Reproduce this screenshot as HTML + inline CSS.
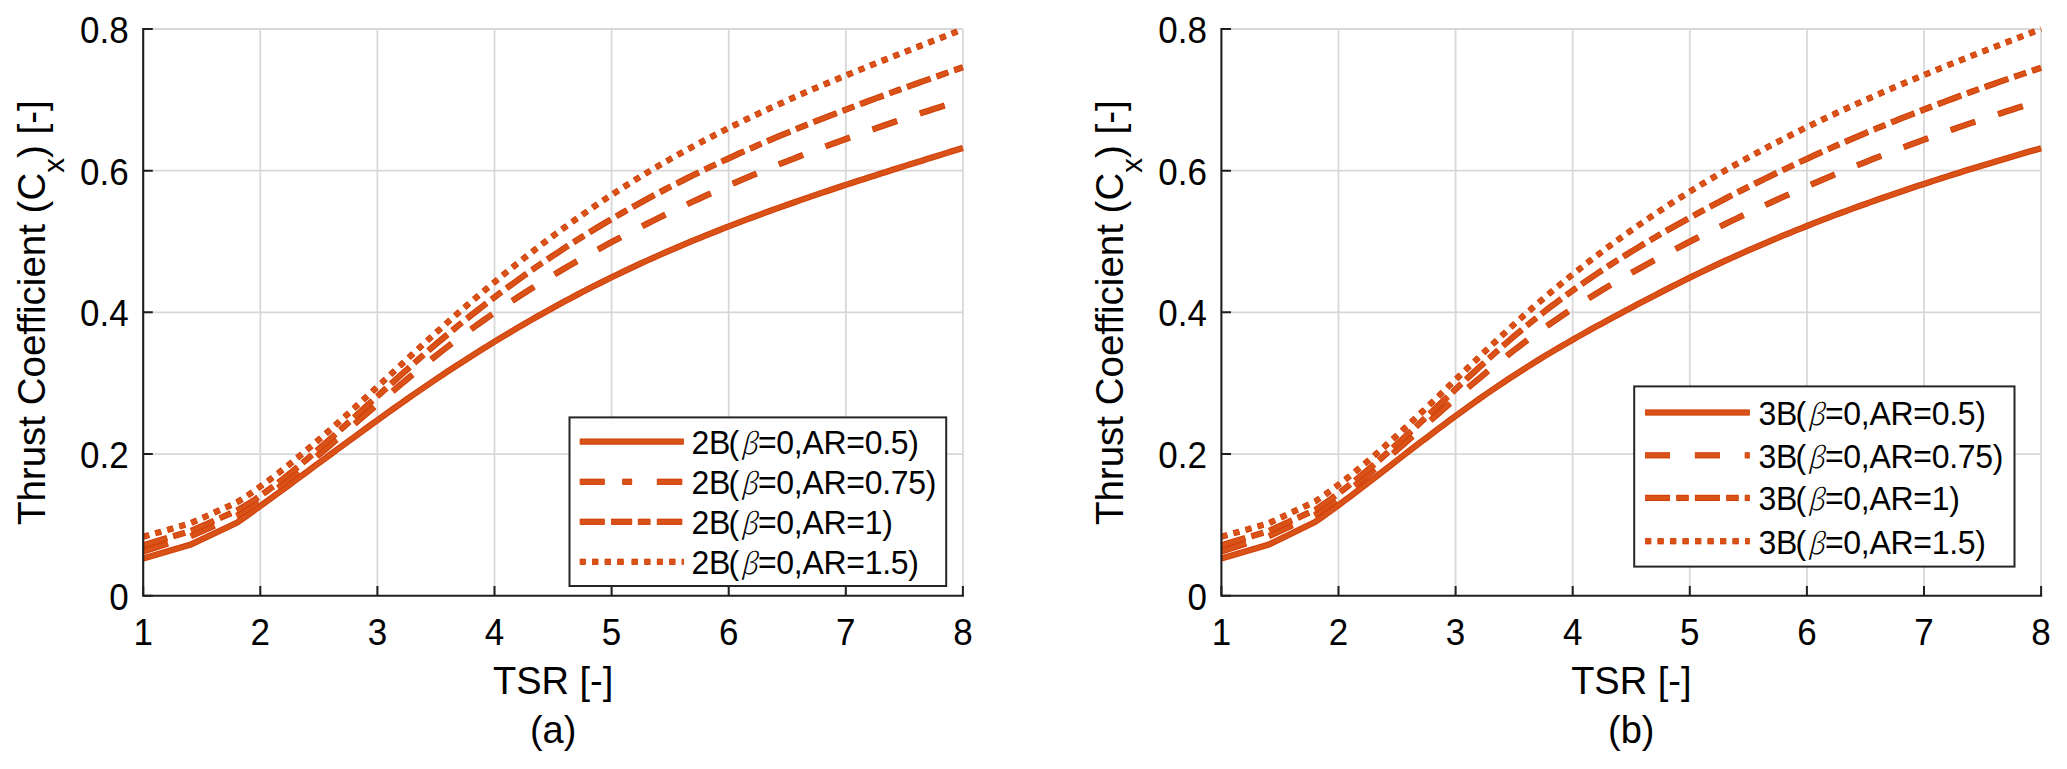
<!DOCTYPE html>
<html><head><meta charset="utf-8"><title>Thrust Coefficient vs TSR</title>
<style>
html,body{margin:0;padding:0;background:#fff;width:2067px;height:769px;overflow:hidden}
svg{display:block}
text{font-family:"Liberation Sans",Arial,sans-serif;fill:#000}
.tk{font-size:35px}
.lb{font-size:38px}
.yl{font-size:38.5px}
.lg{font-size:32px;letter-spacing:-0.3px}
.gr{font-family:"Noto Serif CJK SC","Liberation Serif",serif;font-weight:200;font-style:italic;font-size:28px}
.sub{font-size:29.5px}
</style></head><body>
<svg width="2067" height="769" viewBox="0 0 2067 769">
<rect width="2067" height="769" fill="#fff"/>
<path d="M260.30 595.70V29.00 M377.40 595.70V29.00 M494.50 595.70V29.00 M611.60 595.70V29.00 M728.70 595.70V29.00 M845.80 595.70V29.00 M962.90 595.70V29.00 M143.20 454.03H962.90 M143.20 312.35H962.90 M143.20 170.67H962.90 M143.20 29.00H962.90" stroke="#262626" stroke-opacity="0.18" stroke-width="1.8" fill="none"/>
<polyline points="143.20,558.51 190.04,544.84 236.88,522.74 242.74,518.61 248.59,514.45 254.45,510.25 260.30,506.03 266.16,501.79 272.01,497.53 277.87,493.25 283.72,488.96 289.58,484.65 295.43,480.34 301.29,476.01 307.14,471.69 313.00,467.36 318.85,463.03 324.71,458.70 330.56,454.38 336.42,450.07 342.27,445.76 348.13,441.46 353.98,437.18 359.84,432.90 365.69,428.64 371.55,424.40 377.40,420.18 383.26,415.97 389.11,411.79 394.97,407.63 400.82,403.49 406.68,399.38 412.53,395.29 418.39,391.24 424.24,387.22 430.10,383.23 435.95,379.27 441.81,375.35 447.66,371.47 453.52,367.62 459.37,363.81 465.23,360.04 471.08,356.30 476.94,352.59 482.79,348.93 488.65,345.29 494.50,341.70 500.36,338.14 506.21,334.62 512.07,331.13 517.92,327.68 523.78,324.26 529.63,320.88 535.49,317.54 541.34,314.23 547.20,310.95 553.05,307.72 558.91,304.52 564.76,301.35 570.62,298.22 576.47,295.13 582.33,292.07 588.18,289.05 594.04,286.06 599.89,283.11 605.75,280.19 611.60,277.31 617.46,274.47 623.31,271.66 629.17,268.88 635.02,266.14 640.88,263.44 646.73,260.76 652.59,258.12 658.44,255.50 664.30,252.92 670.15,250.37 676.01,247.85 681.86,245.36 687.72,242.89 693.57,240.46 699.43,238.05 705.28,235.66 711.14,233.31 716.99,230.98 722.85,228.67 728.70,226.39 734.56,224.13 740.41,221.89 746.27,219.68 752.12,217.48 757.98,215.31 763.83,213.16 769.69,211.03 775.54,208.92 781.40,206.83 787.25,204.75 793.11,202.70 798.96,200.66 804.82,198.63 810.67,196.62 816.53,194.63 822.38,192.65 828.24,190.69 834.09,188.74 839.95,186.80 845.80,184.87 851.66,182.96 857.51,181.05 863.37,179.16 869.22,177.27 875.08,175.40 880.93,173.53 886.79,171.67 892.64,169.82 898.50,167.98 904.35,166.14 910.21,164.30 916.06,162.47 921.92,160.65 927.77,158.83 933.63,157.01 939.48,155.20 945.34,153.38 951.19,151.57 957.05,149.76 962.90,147.95" fill="none" stroke="#D2400A" stroke-width="6.25" stroke-linejoin="round" />
<polyline points="143.20,558.51 190.04,544.84 236.88,522.74 242.74,518.61 248.59,514.45 254.45,510.25 260.30,506.03 266.16,501.79 272.01,497.53 277.87,493.25 283.72,488.96 289.58,484.65 295.43,480.34 301.29,476.01 307.14,471.69 313.00,467.36 318.85,463.03 324.71,458.70 330.56,454.38 336.42,450.07 342.27,445.76 348.13,441.46 353.98,437.18 359.84,432.90 365.69,428.64 371.55,424.40 377.40,420.18 383.26,415.97 389.11,411.79 394.97,407.63 400.82,403.49 406.68,399.38 412.53,395.29 418.39,391.24 424.24,387.22 430.10,383.23 435.95,379.27 441.81,375.35 447.66,371.47 453.52,367.62 459.37,363.81 465.23,360.04 471.08,356.30 476.94,352.59 482.79,348.93 488.65,345.29 494.50,341.70 500.36,338.14 506.21,334.62 512.07,331.13 517.92,327.68 523.78,324.26 529.63,320.88 535.49,317.54 541.34,314.23 547.20,310.95 553.05,307.72 558.91,304.52 564.76,301.35 570.62,298.22 576.47,295.13 582.33,292.07 588.18,289.05 594.04,286.06 599.89,283.11 605.75,280.19 611.60,277.31 617.46,274.47 623.31,271.66 629.17,268.88 635.02,266.14 640.88,263.44 646.73,260.76 652.59,258.12 658.44,255.50 664.30,252.92 670.15,250.37 676.01,247.85 681.86,245.36 687.72,242.89 693.57,240.46 699.43,238.05 705.28,235.66 711.14,233.31 716.99,230.98 722.85,228.67 728.70,226.39 734.56,224.13 740.41,221.89 746.27,219.68 752.12,217.48 757.98,215.31 763.83,213.16 769.69,211.03 775.54,208.92 781.40,206.83 787.25,204.75 793.11,202.70 798.96,200.66 804.82,198.63 810.67,196.62 816.53,194.63 822.38,192.65 828.24,190.69 834.09,188.74 839.95,186.80 845.80,184.87 851.66,182.96 857.51,181.05 863.37,179.16 869.22,177.27 875.08,175.40 880.93,173.53 886.79,171.67 892.64,169.82 898.50,167.98 904.35,166.14 910.21,164.30 916.06,162.47 921.92,160.65 927.77,158.83 933.63,157.01 939.48,155.20 945.34,153.38 951.19,151.57 957.05,149.76 962.90,147.95" fill="none" stroke="#D95319" stroke-width="4.05" stroke-linejoin="round" />
<polyline points="143.20,551.43 190.04,536.41 236.88,515.65 242.74,512.22 248.59,508.58 254.45,504.77 260.30,500.80 266.16,496.68 272.01,492.41 277.87,488.02 283.72,483.52 289.58,478.91 295.43,474.21 301.29,469.43 307.14,464.59 313.00,459.68 318.85,454.74 324.71,449.76 330.56,444.76 336.42,439.73 342.27,434.69 348.13,429.64 353.98,424.58 359.84,419.51 365.69,414.45 371.55,409.40 377.40,404.36 383.26,399.34 389.11,394.34 394.97,389.37 400.82,384.42 406.68,379.52 412.53,374.66 418.39,369.84 424.24,365.08 430.10,360.37 435.95,355.73 441.81,351.15 447.66,346.63 453.52,342.18 459.37,337.79 465.23,333.47 471.08,329.20 476.94,325.00 482.79,320.85 488.65,316.76 494.50,312.72 500.36,308.74 506.21,304.82 512.07,300.95 517.92,297.13 523.78,293.36 529.63,289.63 535.49,285.96 541.34,282.34 547.20,278.76 553.05,275.22 558.91,271.73 564.76,268.28 570.62,264.87 576.47,261.51 582.33,258.18 588.18,254.89 594.04,251.64 599.89,248.42 605.75,245.24 611.60,242.09 617.46,238.97 623.31,235.89 629.17,232.84 635.02,229.82 640.88,226.82 646.73,223.87 652.59,220.94 658.44,218.04 664.30,215.17 670.15,212.33 676.01,209.51 681.86,206.73 687.72,203.98 693.57,201.25 699.43,198.55 705.28,195.88 711.14,193.23 716.99,190.61 722.85,188.02 728.70,185.45 734.56,182.91 740.41,180.39 746.27,177.90 752.12,175.43 757.98,172.98 763.83,170.56 769.69,168.17 775.54,165.79 781.40,163.44 787.25,161.11 793.11,158.80 798.96,156.52 804.82,154.25 810.67,152.01 816.53,149.78 822.38,147.58 828.24,145.39 834.09,143.23 839.95,141.08 845.80,138.96 851.66,136.85 857.51,134.76 863.37,132.68 869.22,130.63 875.08,128.59 880.93,126.57 886.79,124.56 892.64,122.57 898.50,120.59 904.35,118.64 910.21,116.69 916.06,114.76 921.92,112.84 927.77,110.94 933.63,109.05 939.48,107.18 945.34,105.32 951.19,103.46 957.05,101.63 962.90,99.80" fill="none" stroke="#D2400A" stroke-width="6.25" stroke-linejoin="round" stroke-dasharray="26 24"/>
<polyline points="143.20,551.43 190.04,536.41 236.88,515.65 242.74,512.22 248.59,508.58 254.45,504.77 260.30,500.80 266.16,496.68 272.01,492.41 277.87,488.02 283.72,483.52 289.58,478.91 295.43,474.21 301.29,469.43 307.14,464.59 313.00,459.68 318.85,454.74 324.71,449.76 330.56,444.76 336.42,439.73 342.27,434.69 348.13,429.64 353.98,424.58 359.84,419.51 365.69,414.45 371.55,409.40 377.40,404.36 383.26,399.34 389.11,394.34 394.97,389.37 400.82,384.42 406.68,379.52 412.53,374.66 418.39,369.84 424.24,365.08 430.10,360.37 435.95,355.73 441.81,351.15 447.66,346.63 453.52,342.18 459.37,337.79 465.23,333.47 471.08,329.20 476.94,325.00 482.79,320.85 488.65,316.76 494.50,312.72 500.36,308.74 506.21,304.82 512.07,300.95 517.92,297.13 523.78,293.36 529.63,289.63 535.49,285.96 541.34,282.34 547.20,278.76 553.05,275.22 558.91,271.73 564.76,268.28 570.62,264.87 576.47,261.51 582.33,258.18 588.18,254.89 594.04,251.64 599.89,248.42 605.75,245.24 611.60,242.09 617.46,238.97 623.31,235.89 629.17,232.84 635.02,229.82 640.88,226.82 646.73,223.87 652.59,220.94 658.44,218.04 664.30,215.17 670.15,212.33 676.01,209.51 681.86,206.73 687.72,203.98 693.57,201.25 699.43,198.55 705.28,195.88 711.14,193.23 716.99,190.61 722.85,188.02 728.70,185.45 734.56,182.91 740.41,180.39 746.27,177.90 752.12,175.43 757.98,172.98 763.83,170.56 769.69,168.17 775.54,165.79 781.40,163.44 787.25,161.11 793.11,158.80 798.96,156.52 804.82,154.25 810.67,152.01 816.53,149.78 822.38,147.58 828.24,145.39 834.09,143.23 839.95,141.08 845.80,138.96 851.66,136.85 857.51,134.76 863.37,132.68 869.22,130.63 875.08,128.59 880.93,126.57 886.79,124.56 892.64,122.57 898.50,120.59 904.35,118.64 910.21,116.69 916.06,114.76 921.92,112.84 927.77,110.94 933.63,109.05 939.48,107.18 945.34,105.32 951.19,103.46 957.05,101.63 962.90,99.80" fill="none" stroke="#D95319" stroke-width="4.05" stroke-linejoin="round" stroke-dasharray="26 24"/>
<polyline points="143.20,545.19 190.04,531.24 236.88,510.70 242.74,507.27 248.59,503.63 254.45,499.81 260.30,495.81 266.16,491.66 272.01,487.35 277.87,482.91 283.72,478.34 289.58,473.65 295.43,468.86 301.29,463.98 307.14,459.01 313.00,453.98 318.85,448.89 324.71,443.74 330.56,438.56 336.42,433.34 342.27,428.09 348.13,422.81 353.98,417.51 359.84,412.20 365.69,406.88 371.55,401.55 377.40,396.22 383.26,390.90 389.11,385.60 394.97,380.31 400.82,375.04 406.68,369.80 412.53,364.59 418.39,359.42 424.24,354.29 430.10,349.22 435.95,344.20 441.81,339.24 447.66,334.33 453.52,329.49 459.37,324.70 465.23,319.98 471.08,315.31 476.94,310.69 482.79,306.13 488.65,301.63 494.50,297.19 500.36,292.80 506.21,288.46 512.07,284.17 517.92,279.94 523.78,275.77 529.63,271.64 535.49,267.56 541.34,263.54 547.20,259.57 553.05,255.64 558.91,251.77 564.76,247.95 570.62,244.17 576.47,240.44 582.33,236.76 588.18,233.12 594.04,229.53 599.89,225.99 605.75,222.49 611.60,219.04 617.46,215.63 623.31,212.27 629.17,208.94 635.02,205.66 640.88,202.42 646.73,199.22 652.59,196.06 658.44,192.94 664.30,189.86 670.15,186.81 676.01,183.81 681.86,180.84 687.72,177.90 693.57,175.00 699.43,172.13 705.28,169.30 711.14,166.50 716.99,163.74 722.85,161.00 728.70,158.29 734.56,155.62 740.41,152.97 746.27,150.36 752.12,147.77 757.98,145.20 763.83,142.67 769.69,140.16 775.54,137.67 781.40,135.21 787.25,132.78 793.11,130.36 798.96,127.97 804.82,125.60 810.67,123.26 816.53,120.93 822.38,118.62 828.24,116.33 834.09,114.06 839.95,111.80 845.80,109.57 851.66,107.34 857.51,105.14 863.37,102.95 869.22,100.77 875.08,98.60 880.93,96.45 886.79,94.31 892.64,92.18 898.50,90.06 904.35,87.95 910.21,85.85 916.06,83.76 921.92,81.68 927.77,79.60 933.63,77.53 939.48,75.47 945.34,73.40 951.19,71.35 957.05,69.29 962.90,67.24" fill="none" stroke="#D2400A" stroke-width="6.25" stroke-linejoin="round" stroke-dasharray="25 6.25 12.5 6.25"/>
<polyline points="143.20,545.19 190.04,531.24 236.88,510.70 242.74,507.27 248.59,503.63 254.45,499.81 260.30,495.81 266.16,491.66 272.01,487.35 277.87,482.91 283.72,478.34 289.58,473.65 295.43,468.86 301.29,463.98 307.14,459.01 313.00,453.98 318.85,448.89 324.71,443.74 330.56,438.56 336.42,433.34 342.27,428.09 348.13,422.81 353.98,417.51 359.84,412.20 365.69,406.88 371.55,401.55 377.40,396.22 383.26,390.90 389.11,385.60 394.97,380.31 400.82,375.04 406.68,369.80 412.53,364.59 418.39,359.42 424.24,354.29 430.10,349.22 435.95,344.20 441.81,339.24 447.66,334.33 453.52,329.49 459.37,324.70 465.23,319.98 471.08,315.31 476.94,310.69 482.79,306.13 488.65,301.63 494.50,297.19 500.36,292.80 506.21,288.46 512.07,284.17 517.92,279.94 523.78,275.77 529.63,271.64 535.49,267.56 541.34,263.54 547.20,259.57 553.05,255.64 558.91,251.77 564.76,247.95 570.62,244.17 576.47,240.44 582.33,236.76 588.18,233.12 594.04,229.53 599.89,225.99 605.75,222.49 611.60,219.04 617.46,215.63 623.31,212.27 629.17,208.94 635.02,205.66 640.88,202.42 646.73,199.22 652.59,196.06 658.44,192.94 664.30,189.86 670.15,186.81 676.01,183.81 681.86,180.84 687.72,177.90 693.57,175.00 699.43,172.13 705.28,169.30 711.14,166.50 716.99,163.74 722.85,161.00 728.70,158.29 734.56,155.62 740.41,152.97 746.27,150.36 752.12,147.77 757.98,145.20 763.83,142.67 769.69,140.16 775.54,137.67 781.40,135.21 787.25,132.78 793.11,130.36 798.96,127.97 804.82,125.60 810.67,123.26 816.53,120.93 822.38,118.62 828.24,116.33 834.09,114.06 839.95,111.80 845.80,109.57 851.66,107.34 857.51,105.14 863.37,102.95 869.22,100.77 875.08,98.60 880.93,96.45 886.79,94.31 892.64,92.18 898.50,90.06 904.35,87.95 910.21,85.85 916.06,83.76 921.92,81.68 927.77,79.60 933.63,77.53 939.48,75.47 945.34,73.40 951.19,71.35 957.05,69.29 962.90,67.24" fill="none" stroke="#D95319" stroke-width="4.05" stroke-linejoin="round" stroke-dasharray="25 6.25 12.5 6.25"/>
<polyline points="143.20,536.76 190.04,523.45 236.88,502.48 242.74,498.70 248.59,494.77 254.45,490.73 260.30,486.57 266.16,482.29 272.01,477.92 277.87,473.44 283.72,468.86 289.58,464.19 295.43,459.44 301.29,454.61 307.14,449.70 313.00,444.72 318.85,439.67 324.71,434.56 330.56,429.40 336.42,424.19 342.27,418.93 348.13,413.63 353.98,408.30 359.84,402.93 365.69,397.54 371.55,392.13 377.40,386.71 383.26,381.27 389.11,375.83 394.97,370.39 400.82,364.96 406.68,359.53 412.53,354.12 418.39,348.73 424.24,343.37 430.10,338.04 435.95,332.74 441.81,327.48 447.66,322.26 453.52,317.08 459.37,311.95 465.23,306.86 471.08,301.81 476.94,296.80 482.79,291.84 488.65,286.92 494.50,282.05 500.36,277.23 506.21,272.45 512.07,267.71 517.92,263.03 523.78,258.39 529.63,253.80 535.49,249.25 541.34,244.76 547.20,240.32 553.05,235.93 558.91,231.58 564.76,227.29 570.62,223.05 576.47,218.87 582.33,214.73 588.18,210.65 594.04,206.62 599.89,202.65 605.75,198.73 611.60,194.87 617.46,191.06 623.31,187.31 629.17,183.61 635.02,179.97 640.88,176.37 646.73,172.83 652.59,169.34 658.44,165.89 664.30,162.49 670.15,159.14 676.01,155.84 681.86,152.58 687.72,149.37 693.57,146.20 699.43,143.06 705.28,139.98 711.14,136.93 716.99,133.91 722.85,130.94 728.70,128.01 734.56,125.10 740.41,122.24 746.27,119.41 752.12,116.61 757.98,113.84 763.83,111.11 769.69,108.40 775.54,105.72 781.40,103.07 787.25,100.45 793.11,97.85 798.96,95.28 804.82,92.73 810.67,90.21 816.53,87.70 822.38,85.22 828.24,82.75 834.09,80.31 839.95,77.88 845.80,75.47 851.66,73.08 857.51,70.70 863.37,68.34 869.22,65.98 875.08,63.64 880.93,61.31 886.79,58.99 892.64,56.68 898.50,54.38 904.35,52.08 910.21,49.79 916.06,47.50 921.92,45.22 927.77,42.94 933.63,40.66 939.48,38.39 945.34,36.11 951.19,33.83 957.05,31.55 962.90,29.27" fill="none" stroke="#D2400A" stroke-width="6.25" stroke-linejoin="round" stroke-dasharray="6.25 6.25"/>
<polyline points="143.20,536.76 190.04,523.45 236.88,502.48 242.74,498.70 248.59,494.77 254.45,490.73 260.30,486.57 266.16,482.29 272.01,477.92 277.87,473.44 283.72,468.86 289.58,464.19 295.43,459.44 301.29,454.61 307.14,449.70 313.00,444.72 318.85,439.67 324.71,434.56 330.56,429.40 336.42,424.19 342.27,418.93 348.13,413.63 353.98,408.30 359.84,402.93 365.69,397.54 371.55,392.13 377.40,386.71 383.26,381.27 389.11,375.83 394.97,370.39 400.82,364.96 406.68,359.53 412.53,354.12 418.39,348.73 424.24,343.37 430.10,338.04 435.95,332.74 441.81,327.48 447.66,322.26 453.52,317.08 459.37,311.95 465.23,306.86 471.08,301.81 476.94,296.80 482.79,291.84 488.65,286.92 494.50,282.05 500.36,277.23 506.21,272.45 512.07,267.71 517.92,263.03 523.78,258.39 529.63,253.80 535.49,249.25 541.34,244.76 547.20,240.32 553.05,235.93 558.91,231.58 564.76,227.29 570.62,223.05 576.47,218.87 582.33,214.73 588.18,210.65 594.04,206.62 599.89,202.65 605.75,198.73 611.60,194.87 617.46,191.06 623.31,187.31 629.17,183.61 635.02,179.97 640.88,176.37 646.73,172.83 652.59,169.34 658.44,165.89 664.30,162.49 670.15,159.14 676.01,155.84 681.86,152.58 687.72,149.37 693.57,146.20 699.43,143.06 705.28,139.98 711.14,136.93 716.99,133.91 722.85,130.94 728.70,128.01 734.56,125.10 740.41,122.24 746.27,119.41 752.12,116.61 757.98,113.84 763.83,111.11 769.69,108.40 775.54,105.72 781.40,103.07 787.25,100.45 793.11,97.85 798.96,95.28 804.82,92.73 810.67,90.21 816.53,87.70 822.38,85.22 828.24,82.75 834.09,80.31 839.95,77.88 845.80,75.47 851.66,73.08 857.51,70.70 863.37,68.34 869.22,65.98 875.08,63.64 880.93,61.31 886.79,58.99 892.64,56.68 898.50,54.38 904.35,52.08 910.21,49.79 916.06,47.50 921.92,45.22 927.77,42.94 933.63,40.66 939.48,38.39 945.34,36.11 951.19,33.83 957.05,31.55 962.90,29.27" fill="none" stroke="#D95319" stroke-width="4.05" stroke-linejoin="round" stroke-dasharray="6.25 6.25"/>
<path d="M143.20 29.00V595.70H962.90" stroke="#1f1f1f" stroke-width="2.1" fill="none" stroke-linecap="square"/>
<path d="M143.20 595.70V586.10 M260.30 595.70V586.10 M377.40 595.70V586.10 M494.50 595.70V586.10 M611.60 595.70V586.10 M728.70 595.70V586.10 M845.80 595.70V586.10 M962.90 595.70V586.10 M143.20 595.70H152.80 M143.20 454.03H152.80 M143.20 312.35H152.80 M143.20 170.67H152.80 M143.20 29.00H152.80" stroke="#1f1f1f" stroke-width="2" fill="none"/>
<text transform="translate(143.20 644.80) scale(1 1.055)" class="tk" text-anchor="middle">1</text>
<text transform="translate(260.30 644.80) scale(1 1.055)" class="tk" text-anchor="middle">2</text>
<text transform="translate(377.40 644.80) scale(1 1.055)" class="tk" text-anchor="middle">3</text>
<text transform="translate(494.50 644.80) scale(1 1.055)" class="tk" text-anchor="middle">4</text>
<text transform="translate(611.60 644.80) scale(1 1.055)" class="tk" text-anchor="middle">5</text>
<text transform="translate(728.70 644.80) scale(1 1.055)" class="tk" text-anchor="middle">6</text>
<text transform="translate(845.80 644.80) scale(1 1.055)" class="tk" text-anchor="middle">7</text>
<text transform="translate(962.90 644.80) scale(1 1.055)" class="tk" text-anchor="middle">8</text>
<text transform="translate(128.70 609.80) scale(1 1.055)" class="tk" text-anchor="end">0</text>
<text transform="translate(128.70 468.13) scale(1 1.055)" class="tk" text-anchor="end">0.2</text>
<text transform="translate(128.70 326.45) scale(1 1.055)" class="tk" text-anchor="end">0.4</text>
<text transform="translate(128.70 184.77) scale(1 1.055)" class="tk" text-anchor="end">0.6</text>
<text transform="translate(128.70 43.10) scale(1 1.055)" class="tk" text-anchor="end">0.8</text>
<rect x="569.5" y="417.4" width="376.70000000000005" height="168.60000000000002" fill="#fff" stroke="#262626" stroke-width="2"/>
<rect x="579.8" y="438.48" width="104.00" height="6.25" fill="#D2400A"/>
<rect x="579.8" y="439.58" width="104.00" height="4.05" fill="#D95319"/>
<rect x="579.8" y="478.68" width="24.90" height="6.25" fill="#D2400A"/>
<rect x="579.8" y="479.78" width="24.90" height="4.05" fill="#D95319"/>
<rect x="622.3" y="478.68" width="9.80" height="6.25" fill="#D2400A"/>
<rect x="622.3" y="479.78" width="9.80" height="4.05" fill="#D95319"/>
<rect x="656.9" y="478.68" width="25.30" height="6.25" fill="#D2400A"/>
<rect x="656.9" y="479.78" width="25.30" height="4.05" fill="#D95319"/>
<rect x="579.8" y="518.67" width="24.90" height="6.25" fill="#D2400A"/>
<rect x="579.8" y="519.77" width="24.90" height="4.05" fill="#D95319"/>
<rect x="611" y="518.67" width="21.10" height="6.25" fill="#D2400A"/>
<rect x="611" y="519.77" width="21.10" height="4.05" fill="#D95319"/>
<rect x="637.9" y="518.67" width="12.50" height="6.25" fill="#D2400A"/>
<rect x="637.9" y="519.77" width="12.50" height="4.05" fill="#D95319"/>
<rect x="656.9" y="518.67" width="25.30" height="6.25" fill="#D2400A"/>
<rect x="656.9" y="519.77" width="25.30" height="4.05" fill="#D95319"/>
<rect x="579.8" y="558.67" width="6.00" height="6.25" fill="#D2400A"/>
<rect x="579.8" y="559.77" width="6.00" height="4.05" fill="#D95319"/>
<rect x="592.0" y="558.67" width="6.30" height="6.25" fill="#D2400A"/>
<rect x="592.0" y="559.77" width="6.30" height="4.05" fill="#D95319"/>
<rect x="604.7" y="558.67" width="6.30" height="6.25" fill="#D2400A"/>
<rect x="604.7" y="559.77" width="6.30" height="4.05" fill="#D95319"/>
<rect x="617.2" y="558.67" width="6.50" height="6.25" fill="#D2400A"/>
<rect x="617.2" y="559.77" width="6.50" height="4.05" fill="#D95319"/>
<rect x="631.6" y="558.67" width="6.30" height="6.25" fill="#D2400A"/>
<rect x="631.6" y="559.77" width="6.30" height="4.05" fill="#D95319"/>
<rect x="644.2" y="558.67" width="6.20" height="6.25" fill="#D2400A"/>
<rect x="644.2" y="559.77" width="6.20" height="4.05" fill="#D95319"/>
<rect x="656.9" y="558.67" width="6.00" height="6.25" fill="#D2400A"/>
<rect x="656.9" y="559.77" width="6.00" height="4.05" fill="#D95319"/>
<rect x="669.2" y="558.67" width="6.20" height="6.25" fill="#D2400A"/>
<rect x="669.2" y="559.77" width="6.20" height="4.05" fill="#D95319"/>
<rect x="681.7" y="558.67" width="2.10" height="6.25" fill="#D2400A"/>
<rect x="681.7" y="559.77" width="2.10" height="4.05" fill="#D95319"/>
<text transform="translate(691.5 454.10) scale(1 1.035)" class="lg">2B<tspan dx="-1.4">(</tspan><tspan class="gr" dx="1.3">β</tspan><tspan dx="1.2">=0,AR=0.5)</tspan></text>
<text transform="translate(691.5 494.30) scale(1 1.035)" class="lg">2B<tspan dx="-1.4">(</tspan><tspan class="gr" dx="1.3">β</tspan><tspan dx="1.2">=0,AR=0.75)</tspan></text>
<text transform="translate(691.5 534.30) scale(1 1.035)" class="lg">2B<tspan dx="-1.4">(</tspan><tspan class="gr" dx="1.3">β</tspan><tspan dx="1.2">=0,AR=1)</tspan></text>
<text transform="translate(691.5 574.30) scale(1 1.035)" class="lg">2B<tspan dx="-1.4">(</tspan><tspan class="gr" dx="1.3">β</tspan><tspan dx="1.2">=0,AR=1.5)</tspan></text>
<text transform="translate(553.10 694.4) scale(1 1.02)" class="lb" text-anchor="middle">TSR [-]</text>
<text transform="translate(553.10 742.6) scale(1 1.02)" class="lb" text-anchor="middle">(a)</text>
<text transform="translate(44.80,312.70) rotate(-90)" class="yl" text-anchor="middle">Thrust Coefficient (C<tspan class="sub" dy="19">x</tspan><tspan dy="-19">) [-]</tspan></text>
<path d="M1338.50 595.70V29.00 M1455.60 595.70V29.00 M1572.70 595.70V29.00 M1689.80 595.70V29.00 M1806.90 595.70V29.00 M1924.00 595.70V29.00 M2041.10 595.70V29.00 M1221.40 454.03H2041.10 M1221.40 312.35H2041.10 M1221.40 170.67H2041.10 M1221.40 29.00H2041.10" stroke="#262626" stroke-opacity="0.18" stroke-width="1.8" fill="none"/>
<polyline points="1221.40,558.51 1268.24,544.84 1315.08,522.03 1320.94,517.92 1326.79,513.74 1332.64,509.50 1338.50,505.20 1344.36,500.84 1350.21,496.45 1356.07,492.01 1361.92,487.54 1367.78,483.04 1373.63,478.53 1379.49,474.00 1385.34,469.46 1391.20,464.92 1397.05,460.38 1402.91,455.85 1408.76,451.33 1414.62,446.83 1420.47,442.35 1426.33,437.89 1432.18,433.45 1438.04,429.04 1443.89,424.66 1449.75,420.32 1455.60,416.00 1461.46,411.73 1467.31,407.50 1473.17,403.30 1479.02,399.16 1484.88,395.06 1490.73,391.00 1496.59,387.00 1502.44,383.05 1508.30,379.15 1514.15,375.31 1520.01,371.53 1525.86,367.80 1531.72,364.13 1537.57,360.51 1543.43,356.93 1549.28,353.41 1555.14,349.92 1560.99,346.48 1566.85,343.08 1572.70,339.72 1578.56,336.39 1584.41,333.10 1590.27,329.84 1596.12,326.61 1601.98,323.40 1607.83,320.22 1613.69,317.06 1619.54,313.92 1625.40,310.79 1631.25,307.69 1637.11,304.59 1642.96,301.51 1648.82,298.45 1654.67,295.41 1660.53,292.39 1666.38,289.39 1672.24,286.41 1678.09,283.46 1683.95,280.54 1689.80,277.65 1695.66,274.79 1701.51,271.96 1707.37,269.16 1713.22,266.40 1719.08,263.66 1724.93,260.96 1730.79,258.28 1736.64,255.63 1742.50,253.01 1748.35,250.42 1754.21,247.86 1760.06,245.33 1765.92,242.82 1771.77,240.34 1777.63,237.88 1783.48,235.45 1789.34,233.05 1795.19,230.67 1801.05,228.32 1806.90,225.99 1812.76,223.69 1818.61,221.40 1824.47,219.15 1830.32,216.91 1836.18,214.70 1842.03,212.51 1847.89,210.34 1853.74,208.19 1859.60,206.06 1865.45,203.95 1871.31,201.86 1877.16,199.80 1883.02,197.75 1888.87,195.72 1894.73,193.70 1900.58,191.71 1906.44,189.73 1912.29,187.77 1918.15,185.83 1924.00,183.91 1929.86,182.00 1935.71,180.10 1941.57,178.22 1947.42,176.36 1953.28,174.51 1959.13,172.67 1964.99,170.85 1970.84,169.04 1976.70,167.24 1982.55,165.46 1988.41,163.68 1994.26,161.92 2000.12,160.17 2005.97,158.43 2011.83,156.70 2017.68,154.99 2023.54,153.28 2029.39,151.58 2035.25,149.89 2041.10,148.20" fill="none" stroke="#D2400A" stroke-width="6.25" stroke-linejoin="round" />
<polyline points="1221.40,558.51 1268.24,544.84 1315.08,522.03 1320.94,517.92 1326.79,513.74 1332.64,509.50 1338.50,505.20 1344.36,500.84 1350.21,496.45 1356.07,492.01 1361.92,487.54 1367.78,483.04 1373.63,478.53 1379.49,474.00 1385.34,469.46 1391.20,464.92 1397.05,460.38 1402.91,455.85 1408.76,451.33 1414.62,446.83 1420.47,442.35 1426.33,437.89 1432.18,433.45 1438.04,429.04 1443.89,424.66 1449.75,420.32 1455.60,416.00 1461.46,411.73 1467.31,407.50 1473.17,403.30 1479.02,399.16 1484.88,395.06 1490.73,391.00 1496.59,387.00 1502.44,383.05 1508.30,379.15 1514.15,375.31 1520.01,371.53 1525.86,367.80 1531.72,364.13 1537.57,360.51 1543.43,356.93 1549.28,353.41 1555.14,349.92 1560.99,346.48 1566.85,343.08 1572.70,339.72 1578.56,336.39 1584.41,333.10 1590.27,329.84 1596.12,326.61 1601.98,323.40 1607.83,320.22 1613.69,317.06 1619.54,313.92 1625.40,310.79 1631.25,307.69 1637.11,304.59 1642.96,301.51 1648.82,298.45 1654.67,295.41 1660.53,292.39 1666.38,289.39 1672.24,286.41 1678.09,283.46 1683.95,280.54 1689.80,277.65 1695.66,274.79 1701.51,271.96 1707.37,269.16 1713.22,266.40 1719.08,263.66 1724.93,260.96 1730.79,258.28 1736.64,255.63 1742.50,253.01 1748.35,250.42 1754.21,247.86 1760.06,245.33 1765.92,242.82 1771.77,240.34 1777.63,237.88 1783.48,235.45 1789.34,233.05 1795.19,230.67 1801.05,228.32 1806.90,225.99 1812.76,223.69 1818.61,221.40 1824.47,219.15 1830.32,216.91 1836.18,214.70 1842.03,212.51 1847.89,210.34 1853.74,208.19 1859.60,206.06 1865.45,203.95 1871.31,201.86 1877.16,199.80 1883.02,197.75 1888.87,195.72 1894.73,193.70 1900.58,191.71 1906.44,189.73 1912.29,187.77 1918.15,185.83 1924.00,183.91 1929.86,182.00 1935.71,180.10 1941.57,178.22 1947.42,176.36 1953.28,174.51 1959.13,172.67 1964.99,170.85 1970.84,169.04 1976.70,167.24 1982.55,165.46 1988.41,163.68 1994.26,161.92 2000.12,160.17 2005.97,158.43 2011.83,156.70 2017.68,154.99 2023.54,153.28 2029.39,151.58 2035.25,149.89 2041.10,148.20" fill="none" stroke="#D95319" stroke-width="4.05" stroke-linejoin="round" />
<polyline points="1221.40,551.43 1268.24,536.41 1315.08,514.95 1320.94,511.08 1326.79,507.04 1332.64,502.85 1338.50,498.52 1344.36,494.05 1350.21,489.47 1356.07,484.79 1361.92,480.00 1367.78,475.14 1373.63,470.20 1379.49,465.19 1385.34,460.14 1391.20,455.04 1397.05,449.92 1402.91,444.78 1408.76,439.63 1414.62,434.46 1420.47,429.30 1426.33,424.13 1432.18,418.98 1438.04,413.83 1443.89,408.70 1449.75,403.59 1455.60,398.51 1461.46,393.45 1467.31,388.44 1473.17,383.46 1479.02,378.53 1484.88,373.65 1490.73,368.82 1496.59,364.05 1502.44,359.35 1508.30,354.71 1514.15,350.15 1520.01,345.67 1525.86,341.26 1531.72,336.93 1537.57,332.67 1543.43,328.49 1549.28,324.37 1555.14,320.32 1560.99,316.34 1566.85,312.42 1572.70,308.56 1578.56,304.76 1584.41,301.03 1590.27,297.34 1596.12,293.72 1601.98,290.14 1607.83,286.62 1613.69,283.15 1619.54,279.72 1625.40,276.34 1631.25,273.00 1637.11,269.71 1642.96,266.45 1648.82,263.24 1654.67,260.06 1660.53,256.91 1666.38,253.80 1672.24,250.72 1678.09,247.66 1683.95,244.64 1689.80,241.64 1695.66,238.66 1701.51,235.70 1707.37,232.77 1713.22,229.87 1719.08,226.98 1724.93,224.12 1730.79,221.28 1736.64,218.46 1742.50,215.67 1748.35,212.90 1754.21,210.15 1760.06,207.42 1765.92,204.72 1771.77,202.04 1777.63,199.38 1783.48,196.74 1789.34,194.12 1795.19,191.53 1801.05,188.95 1806.90,186.40 1812.76,183.87 1818.61,181.36 1824.47,178.87 1830.32,176.40 1836.18,173.95 1842.03,171.53 1847.89,169.12 1853.74,166.74 1859.60,164.37 1865.45,162.03 1871.31,159.70 1877.16,157.40 1883.02,155.11 1888.87,152.85 1894.73,150.60 1900.58,148.38 1906.44,146.17 1912.29,143.98 1918.15,141.81 1924.00,139.67 1929.86,137.54 1935.71,135.43 1941.57,133.34 1947.42,131.26 1953.28,129.21 1959.13,127.17 1964.99,125.16 1970.84,123.16 1976.70,121.18 1982.55,119.21 1988.41,117.27 1994.26,115.34 2000.12,113.43 2005.97,111.54 2011.83,109.67 2017.68,107.81 2023.54,105.97 2029.39,104.15 2035.25,102.35 2041.10,100.56" fill="none" stroke="#D2400A" stroke-width="6.25" stroke-linejoin="round" stroke-dasharray="26 24"/>
<polyline points="1221.40,551.43 1268.24,536.41 1315.08,514.95 1320.94,511.08 1326.79,507.04 1332.64,502.85 1338.50,498.52 1344.36,494.05 1350.21,489.47 1356.07,484.79 1361.92,480.00 1367.78,475.14 1373.63,470.20 1379.49,465.19 1385.34,460.14 1391.20,455.04 1397.05,449.92 1402.91,444.78 1408.76,439.63 1414.62,434.46 1420.47,429.30 1426.33,424.13 1432.18,418.98 1438.04,413.83 1443.89,408.70 1449.75,403.59 1455.60,398.51 1461.46,393.45 1467.31,388.44 1473.17,383.46 1479.02,378.53 1484.88,373.65 1490.73,368.82 1496.59,364.05 1502.44,359.35 1508.30,354.71 1514.15,350.15 1520.01,345.67 1525.86,341.26 1531.72,336.93 1537.57,332.67 1543.43,328.49 1549.28,324.37 1555.14,320.32 1560.99,316.34 1566.85,312.42 1572.70,308.56 1578.56,304.76 1584.41,301.03 1590.27,297.34 1596.12,293.72 1601.98,290.14 1607.83,286.62 1613.69,283.15 1619.54,279.72 1625.40,276.34 1631.25,273.00 1637.11,269.71 1642.96,266.45 1648.82,263.24 1654.67,260.06 1660.53,256.91 1666.38,253.80 1672.24,250.72 1678.09,247.66 1683.95,244.64 1689.80,241.64 1695.66,238.66 1701.51,235.70 1707.37,232.77 1713.22,229.87 1719.08,226.98 1724.93,224.12 1730.79,221.28 1736.64,218.46 1742.50,215.67 1748.35,212.90 1754.21,210.15 1760.06,207.42 1765.92,204.72 1771.77,202.04 1777.63,199.38 1783.48,196.74 1789.34,194.12 1795.19,191.53 1801.05,188.95 1806.90,186.40 1812.76,183.87 1818.61,181.36 1824.47,178.87 1830.32,176.40 1836.18,173.95 1842.03,171.53 1847.89,169.12 1853.74,166.74 1859.60,164.37 1865.45,162.03 1871.31,159.70 1877.16,157.40 1883.02,155.11 1888.87,152.85 1894.73,150.60 1900.58,148.38 1906.44,146.17 1912.29,143.98 1918.15,141.81 1924.00,139.67 1929.86,137.54 1935.71,135.43 1941.57,133.34 1947.42,131.26 1953.28,129.21 1959.13,127.17 1964.99,125.16 1970.84,123.16 1976.70,121.18 1982.55,119.21 1988.41,117.27 1994.26,115.34 2000.12,113.43 2005.97,111.54 2011.83,109.67 2017.68,107.81 2023.54,105.97 2029.39,104.15 2035.25,102.35 2041.10,100.56" fill="none" stroke="#D95319" stroke-width="4.05" stroke-linejoin="round" stroke-dasharray="26 24"/>
<polyline points="1221.40,545.19 1268.24,531.24 1315.08,509.99 1320.94,506.07 1326.79,501.99 1332.64,497.77 1338.50,493.41 1344.36,488.93 1350.21,484.33 1356.07,479.61 1361.92,474.80 1367.78,469.88 1373.63,464.87 1379.49,459.78 1385.34,454.62 1391.20,449.38 1397.05,444.09 1402.91,438.74 1408.76,433.34 1414.62,427.90 1420.47,422.43 1426.33,416.93 1432.18,411.41 1438.04,405.89 1443.89,400.35 1449.75,394.82 1455.60,389.30 1461.46,383.80 1467.31,378.32 1473.17,372.87 1479.02,367.46 1484.88,362.10 1490.73,356.79 1496.59,351.54 1502.44,346.36 1508.30,341.25 1514.15,336.22 1520.01,331.28 1525.86,326.43 1531.72,321.66 1537.57,316.97 1543.43,312.37 1549.28,307.84 1555.14,303.39 1560.99,299.02 1566.85,294.71 1572.70,290.48 1578.56,286.32 1584.41,282.23 1590.27,278.20 1596.12,274.23 1601.98,270.32 1607.83,266.47 1613.69,262.68 1619.54,258.95 1625.40,255.26 1631.25,251.63 1637.11,248.05 1642.96,244.51 1648.82,241.02 1654.67,237.57 1660.53,234.16 1666.38,230.79 1672.24,227.46 1678.09,224.17 1683.95,220.90 1689.80,217.67 1695.66,214.47 1701.51,211.29 1707.37,208.15 1713.22,205.03 1719.08,201.94 1724.93,198.88 1730.79,195.84 1736.64,192.84 1742.50,189.86 1748.35,186.91 1754.21,183.98 1760.06,181.08 1765.92,178.20 1771.77,175.36 1777.63,172.53 1783.48,169.74 1789.34,166.96 1795.19,164.21 1801.05,161.49 1806.90,158.79 1812.76,156.12 1818.61,153.46 1824.47,150.84 1830.32,148.23 1836.18,145.65 1842.03,143.09 1847.89,140.55 1853.74,138.04 1859.60,135.55 1865.45,133.08 1871.31,130.63 1877.16,128.20 1883.02,125.79 1888.87,123.41 1894.73,121.04 1900.58,118.70 1906.44,116.37 1912.29,114.06 1918.15,111.78 1924.00,109.51 1929.86,107.26 1935.71,105.03 1941.57,102.82 1947.42,100.63 1953.28,98.45 1959.13,96.29 1964.99,94.15 1970.84,92.03 1976.70,89.93 1982.55,87.84 1988.41,85.76 1994.26,83.71 2000.12,81.67 2005.97,79.64 2011.83,77.63 2017.68,75.64 2023.54,73.66 2029.39,71.69 2035.25,69.74 2041.10,67.81" fill="none" stroke="#D2400A" stroke-width="6.25" stroke-linejoin="round" stroke-dasharray="25 6.25 12.5 6.25"/>
<polyline points="1221.40,545.19 1268.24,531.24 1315.08,509.99 1320.94,506.07 1326.79,501.99 1332.64,497.77 1338.50,493.41 1344.36,488.93 1350.21,484.33 1356.07,479.61 1361.92,474.80 1367.78,469.88 1373.63,464.87 1379.49,459.78 1385.34,454.62 1391.20,449.38 1397.05,444.09 1402.91,438.74 1408.76,433.34 1414.62,427.90 1420.47,422.43 1426.33,416.93 1432.18,411.41 1438.04,405.89 1443.89,400.35 1449.75,394.82 1455.60,389.30 1461.46,383.80 1467.31,378.32 1473.17,372.87 1479.02,367.46 1484.88,362.10 1490.73,356.79 1496.59,351.54 1502.44,346.36 1508.30,341.25 1514.15,336.22 1520.01,331.28 1525.86,326.43 1531.72,321.66 1537.57,316.97 1543.43,312.37 1549.28,307.84 1555.14,303.39 1560.99,299.02 1566.85,294.71 1572.70,290.48 1578.56,286.32 1584.41,282.23 1590.27,278.20 1596.12,274.23 1601.98,270.32 1607.83,266.47 1613.69,262.68 1619.54,258.95 1625.40,255.26 1631.25,251.63 1637.11,248.05 1642.96,244.51 1648.82,241.02 1654.67,237.57 1660.53,234.16 1666.38,230.79 1672.24,227.46 1678.09,224.17 1683.95,220.90 1689.80,217.67 1695.66,214.47 1701.51,211.29 1707.37,208.15 1713.22,205.03 1719.08,201.94 1724.93,198.88 1730.79,195.84 1736.64,192.84 1742.50,189.86 1748.35,186.91 1754.21,183.98 1760.06,181.08 1765.92,178.20 1771.77,175.36 1777.63,172.53 1783.48,169.74 1789.34,166.96 1795.19,164.21 1801.05,161.49 1806.90,158.79 1812.76,156.12 1818.61,153.46 1824.47,150.84 1830.32,148.23 1836.18,145.65 1842.03,143.09 1847.89,140.55 1853.74,138.04 1859.60,135.55 1865.45,133.08 1871.31,130.63 1877.16,128.20 1883.02,125.79 1888.87,123.41 1894.73,121.04 1900.58,118.70 1906.44,116.37 1912.29,114.06 1918.15,111.78 1924.00,109.51 1929.86,107.26 1935.71,105.03 1941.57,102.82 1947.42,100.63 1953.28,98.45 1959.13,96.29 1964.99,94.15 1970.84,92.03 1976.70,89.93 1982.55,87.84 1988.41,85.76 1994.26,83.71 2000.12,81.67 2005.97,79.64 2011.83,77.63 2017.68,75.64 2023.54,73.66 2029.39,71.69 2035.25,69.74 2041.10,67.81" fill="none" stroke="#D95319" stroke-width="4.05" stroke-linejoin="round" stroke-dasharray="25 6.25 12.5 6.25"/>
<polyline points="1221.40,536.76 1268.24,523.45 1315.08,501.49 1320.94,497.54 1326.79,493.43 1332.64,489.18 1338.50,484.81 1344.36,480.31 1350.21,475.69 1356.07,470.96 1361.92,466.13 1367.78,461.20 1373.63,456.17 1379.49,451.06 1385.34,445.87 1391.20,440.60 1397.05,435.27 1402.91,429.87 1408.76,424.43 1414.62,418.93 1420.47,413.39 1426.33,407.82 1432.18,402.22 1438.04,396.59 1443.89,390.95 1449.75,385.30 1455.60,379.64 1461.46,373.99 1467.31,368.34 1473.17,362.71 1479.02,357.11 1484.88,351.53 1490.73,345.98 1496.59,340.48 1502.44,335.02 1508.30,329.62 1514.15,324.27 1520.01,319.00 1525.86,313.78 1531.72,308.63 1537.57,303.55 1543.43,298.53 1549.28,293.57 1555.14,288.67 1560.99,283.84 1566.85,279.06 1572.70,274.35 1578.56,269.69 1584.41,265.10 1590.27,260.56 1596.12,256.08 1601.98,251.65 1607.83,247.28 1613.69,242.97 1619.54,238.71 1625.40,234.51 1631.25,230.36 1637.11,226.26 1642.96,222.21 1648.82,218.22 1654.67,214.27 1660.53,210.38 1666.38,206.53 1672.24,202.73 1678.09,198.98 1683.95,195.28 1689.80,191.63 1695.66,188.02 1701.51,184.45 1707.37,180.93 1713.22,177.45 1719.08,174.02 1724.93,170.63 1730.79,167.28 1736.64,163.97 1742.50,160.70 1748.35,157.47 1754.21,154.28 1760.06,151.12 1765.92,148.00 1771.77,144.92 1777.63,141.87 1783.48,138.86 1789.34,135.88 1795.19,132.94 1801.05,130.03 1806.90,127.14 1812.76,124.29 1818.61,121.47 1824.47,118.68 1830.32,115.92 1836.18,113.18 1842.03,110.47 1847.89,107.79 1853.74,105.13 1859.60,102.50 1865.45,99.89 1871.31,97.31 1877.16,94.75 1883.02,92.21 1888.87,89.69 1894.73,87.19 1900.58,84.71 1906.44,82.25 1912.29,79.80 1918.15,77.38 1924.00,74.97 1929.86,72.57 1935.71,70.19 1941.57,67.83 1947.42,65.48 1953.28,63.14 1959.13,60.81 1964.99,58.50 1970.84,56.19 1976.70,53.89 1982.55,51.61 1988.41,49.33 1994.26,47.06 2000.12,44.79 2005.97,42.53 2011.83,40.28 2017.68,38.03 2023.54,35.78 2029.39,33.54 2035.25,31.30 2041.10,29.06" fill="none" stroke="#D2400A" stroke-width="6.25" stroke-linejoin="round" stroke-dasharray="6.25 6.25"/>
<polyline points="1221.40,536.76 1268.24,523.45 1315.08,501.49 1320.94,497.54 1326.79,493.43 1332.64,489.18 1338.50,484.81 1344.36,480.31 1350.21,475.69 1356.07,470.96 1361.92,466.13 1367.78,461.20 1373.63,456.17 1379.49,451.06 1385.34,445.87 1391.20,440.60 1397.05,435.27 1402.91,429.87 1408.76,424.43 1414.62,418.93 1420.47,413.39 1426.33,407.82 1432.18,402.22 1438.04,396.59 1443.89,390.95 1449.75,385.30 1455.60,379.64 1461.46,373.99 1467.31,368.34 1473.17,362.71 1479.02,357.11 1484.88,351.53 1490.73,345.98 1496.59,340.48 1502.44,335.02 1508.30,329.62 1514.15,324.27 1520.01,319.00 1525.86,313.78 1531.72,308.63 1537.57,303.55 1543.43,298.53 1549.28,293.57 1555.14,288.67 1560.99,283.84 1566.85,279.06 1572.70,274.35 1578.56,269.69 1584.41,265.10 1590.27,260.56 1596.12,256.08 1601.98,251.65 1607.83,247.28 1613.69,242.97 1619.54,238.71 1625.40,234.51 1631.25,230.36 1637.11,226.26 1642.96,222.21 1648.82,218.22 1654.67,214.27 1660.53,210.38 1666.38,206.53 1672.24,202.73 1678.09,198.98 1683.95,195.28 1689.80,191.63 1695.66,188.02 1701.51,184.45 1707.37,180.93 1713.22,177.45 1719.08,174.02 1724.93,170.63 1730.79,167.28 1736.64,163.97 1742.50,160.70 1748.35,157.47 1754.21,154.28 1760.06,151.12 1765.92,148.00 1771.77,144.92 1777.63,141.87 1783.48,138.86 1789.34,135.88 1795.19,132.94 1801.05,130.03 1806.90,127.14 1812.76,124.29 1818.61,121.47 1824.47,118.68 1830.32,115.92 1836.18,113.18 1842.03,110.47 1847.89,107.79 1853.74,105.13 1859.60,102.50 1865.45,99.89 1871.31,97.31 1877.16,94.75 1883.02,92.21 1888.87,89.69 1894.73,87.19 1900.58,84.71 1906.44,82.25 1912.29,79.80 1918.15,77.38 1924.00,74.97 1929.86,72.57 1935.71,70.19 1941.57,67.83 1947.42,65.48 1953.28,63.14 1959.13,60.81 1964.99,58.50 1970.84,56.19 1976.70,53.89 1982.55,51.61 1988.41,49.33 1994.26,47.06 2000.12,44.79 2005.97,42.53 2011.83,40.28 2017.68,38.03 2023.54,35.78 2029.39,33.54 2035.25,31.30 2041.10,29.06" fill="none" stroke="#D95319" stroke-width="4.05" stroke-linejoin="round" stroke-dasharray="6.25 6.25"/>
<path d="M1221.40 29.00V595.70H2041.10" stroke="#1f1f1f" stroke-width="2.1" fill="none" stroke-linecap="square"/>
<path d="M1221.40 595.70V586.10 M1338.50 595.70V586.10 M1455.60 595.70V586.10 M1572.70 595.70V586.10 M1689.80 595.70V586.10 M1806.90 595.70V586.10 M1924.00 595.70V586.10 M2041.10 595.70V586.10 M1221.40 595.70H1231.00 M1221.40 454.03H1231.00 M1221.40 312.35H1231.00 M1221.40 170.67H1231.00 M1221.40 29.00H1231.00" stroke="#1f1f1f" stroke-width="2" fill="none"/>
<text transform="translate(1221.40 644.80) scale(1 1.055)" class="tk" text-anchor="middle">1</text>
<text transform="translate(1338.50 644.80) scale(1 1.055)" class="tk" text-anchor="middle">2</text>
<text transform="translate(1455.60 644.80) scale(1 1.055)" class="tk" text-anchor="middle">3</text>
<text transform="translate(1572.70 644.80) scale(1 1.055)" class="tk" text-anchor="middle">4</text>
<text transform="translate(1689.80 644.80) scale(1 1.055)" class="tk" text-anchor="middle">5</text>
<text transform="translate(1806.90 644.80) scale(1 1.055)" class="tk" text-anchor="middle">6</text>
<text transform="translate(1924.00 644.80) scale(1 1.055)" class="tk" text-anchor="middle">7</text>
<text transform="translate(2041.10 644.80) scale(1 1.055)" class="tk" text-anchor="middle">8</text>
<text transform="translate(1206.90 609.80) scale(1 1.055)" class="tk" text-anchor="end">0</text>
<text transform="translate(1206.90 468.13) scale(1 1.055)" class="tk" text-anchor="end">0.2</text>
<text transform="translate(1206.90 326.45) scale(1 1.055)" class="tk" text-anchor="end">0.4</text>
<text transform="translate(1206.90 184.77) scale(1 1.055)" class="tk" text-anchor="end">0.6</text>
<text transform="translate(1206.90 43.10) scale(1 1.055)" class="tk" text-anchor="end">0.8</text>
<rect x="1634.2" y="386.4" width="380.29999999999995" height="180.20000000000005" fill="#fff" stroke="#262626" stroke-width="2"/>
<rect x="1645" y="409.38" width="104.80" height="6.25" fill="#D2400A"/>
<rect x="1645" y="410.48" width="104.80" height="4.05" fill="#D95319"/>
<rect x="1645" y="452.18" width="25.00" height="6.25" fill="#D2400A"/>
<rect x="1645" y="453.28" width="25.00" height="4.05" fill="#D95319"/>
<rect x="1694.9" y="452.18" width="25.00" height="6.25" fill="#D2400A"/>
<rect x="1694.9" y="453.28" width="25.00" height="4.05" fill="#D95319"/>
<rect x="1744.8" y="452.18" width="5.00" height="6.25" fill="#D2400A"/>
<rect x="1744.8" y="453.28" width="5.00" height="4.05" fill="#D95319"/>
<rect x="1645" y="494.77" width="25.00" height="6.25" fill="#D2400A"/>
<rect x="1645" y="495.88" width="25.00" height="4.05" fill="#D95319"/>
<rect x="1676.2" y="494.77" width="12.50" height="6.25" fill="#D2400A"/>
<rect x="1676.2" y="495.88" width="12.50" height="4.05" fill="#D95319"/>
<rect x="1694.9" y="494.77" width="25.00" height="6.25" fill="#D2400A"/>
<rect x="1694.9" y="495.88" width="25.00" height="4.05" fill="#D95319"/>
<rect x="1726.2" y="494.77" width="12.40" height="6.25" fill="#D2400A"/>
<rect x="1726.2" y="495.88" width="12.40" height="4.05" fill="#D95319"/>
<rect x="1744.8" y="494.77" width="5.00" height="6.25" fill="#D2400A"/>
<rect x="1744.8" y="495.88" width="5.00" height="4.05" fill="#D95319"/>
<rect x="1645.0" y="538.08" width="6.25" height="6.25" fill="#D2400A"/>
<rect x="1645.0" y="539.18" width="6.25" height="4.05" fill="#D95319"/>
<rect x="1657.5" y="538.08" width="6.25" height="6.25" fill="#D2400A"/>
<rect x="1657.5" y="539.18" width="6.25" height="4.05" fill="#D95319"/>
<rect x="1670.0" y="538.08" width="6.25" height="6.25" fill="#D2400A"/>
<rect x="1670.0" y="539.18" width="6.25" height="4.05" fill="#D95319"/>
<rect x="1682.5" y="538.08" width="6.25" height="6.25" fill="#D2400A"/>
<rect x="1682.5" y="539.18" width="6.25" height="4.05" fill="#D95319"/>
<rect x="1695.0" y="538.08" width="6.25" height="6.25" fill="#D2400A"/>
<rect x="1695.0" y="539.18" width="6.25" height="4.05" fill="#D95319"/>
<rect x="1707.5" y="538.08" width="6.25" height="6.25" fill="#D2400A"/>
<rect x="1707.5" y="539.18" width="6.25" height="4.05" fill="#D95319"/>
<rect x="1720.0" y="538.08" width="6.25" height="6.25" fill="#D2400A"/>
<rect x="1720.0" y="539.18" width="6.25" height="4.05" fill="#D95319"/>
<rect x="1732.5" y="538.08" width="6.25" height="6.25" fill="#D2400A"/>
<rect x="1732.5" y="539.18" width="6.25" height="4.05" fill="#D95319"/>
<rect x="1745.0" y="538.08" width="4.80" height="6.25" fill="#D2400A"/>
<rect x="1745.0" y="539.18" width="4.80" height="4.05" fill="#D95319"/>
<text transform="translate(1758.5 425.00) scale(1 1.035)" class="lg">3B<tspan dx="-1.4">(</tspan><tspan class="gr" dx="1.3">β</tspan><tspan dx="1.2">=0,AR=0.5)</tspan></text>
<text transform="translate(1758.5 467.80) scale(1 1.035)" class="lg">3B<tspan dx="-1.4">(</tspan><tspan class="gr" dx="1.3">β</tspan><tspan dx="1.2">=0,AR=0.75)</tspan></text>
<text transform="translate(1758.5 510.40) scale(1 1.035)" class="lg">3B<tspan dx="-1.4">(</tspan><tspan class="gr" dx="1.3">β</tspan><tspan dx="1.2">=0,AR=1)</tspan></text>
<text transform="translate(1758.5 553.70) scale(1 1.035)" class="lg">3B<tspan dx="-1.4">(</tspan><tspan class="gr" dx="1.3">β</tspan><tspan dx="1.2">=0,AR=1.5)</tspan></text>
<text transform="translate(1631.30 694.4) scale(1 1.02)" class="lb" text-anchor="middle">TSR [-]</text>
<text transform="translate(1631.30 742.6) scale(1 1.02)" class="lb" text-anchor="middle">(b)</text>
<text transform="translate(1123.00,312.70) rotate(-90)" class="yl" text-anchor="middle">Thrust Coefficient (C<tspan class="sub" dy="19">x</tspan><tspan dy="-19">) [-]</tspan></text>
</svg>
</body></html>
